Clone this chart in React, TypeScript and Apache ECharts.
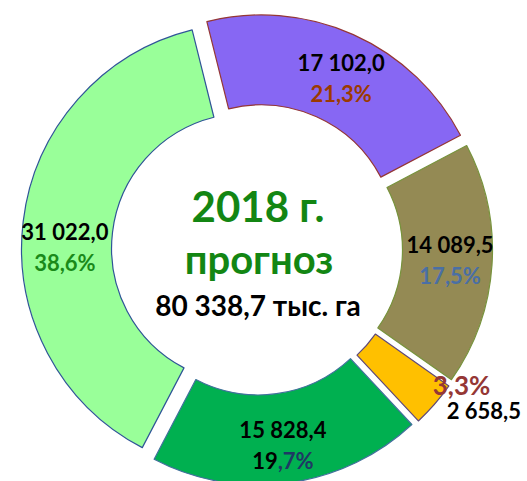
import React, { useEffect, useRef } from "react";
import * as echarts from "echarts";

// ---- data ----
const names = ["Категория 1", "Категория 2", "Категория 3", "Категория 4", "Категория 5"];
const values = [17102.0, 14089.5, 2658.5, 15828.4, 31022.0];
const total = 80338.7;
const yearText = "2018 г.";
const subText = "прогноз";
const unitText = "тыс. га";

// ---- styles ----
const sliceColors = ["#8767F3", "#948A54", "#FFC000", "#00B050", "#99FF99"];
const borderColors = ["#953735", "#77933C", "#5F497A", "#41719C", "#2F5597"];
const pctColors = ["#9C3A00", "#4A6FA5", "#953735", "#1F3864", "#1A8A1A"];
const labelShift = [
  [5, 5],
  [0, -2],
  [74, 20],
  [0, 4],
  [0, 20],
];
const FONT = 'Lato, "Open Sans", "Noto Sans", sans-serif';

const fmt = (v: number) => {
  const [i, d] = v.toFixed(1).split(".");
  return i.replace(/\B(?=(\d{3})+(?!\d))/g, " ") + "," + d;
};
const pct = (v: number) => ((v / total) * 100).toFixed(1).replace(".", ",") + "%";

export default function App() {
  const ref = useRef<HTMLDivElement>(null);
  useEffect(() => {
    if (!ref.current) return;
    const chart = echarts.init(ref.current, null, { renderer: "svg" });
    const rich: any = {
      v: { fontSize: 22, fontWeight: "bold", color: "#000", fontFamily: FONT, lineHeight: 31 },
      vy: { fontSize: 22, fontWeight: "bold", color: "#000", fontFamily: FONT, lineHeight: 24, align: "left", padding: [0, 0, 0, 14] },
      py: { fontSize: 26, fontWeight: "bold", color: pctColors[2], fontFamily: FONT, lineHeight: 28, align: "left" },
    };
    pctColors.forEach((c, i) => {
      rich["p" + i] = { fontSize: 22, fontWeight: "bold", color: c, fontFamily: FONT, lineHeight: 31 };
    });
    const formatter = (p: any) => {
      const i = p.dataIndex;
      const v = fmt(values[i]);
      const pc = pct(values[i]);
      if (i === 2) return `{py|${pc}}\n{vy|${v}}`;
      if (i === 3) {
        const [a, b] = pc.split(",");
        return `{v|${v}}\n{v|${a}}{p3|,${b}}`;
      }
      return `{v|${v}}\n{p${i}|${pc}}`;
    };
    chart.setOption({
      animation: false,
      series: [
        {
          type: "pie",
          center: [257, 249.5],
          radius: [135, 225],
          startAngle: 104,
          clockwise: true,
          selectedMode: "multiple",
          selectedOffset: 10.5,
          avoidLabelOverlap: false,
          silent: true,
          emphasis: { disabled: true },
          labelLine: { show: false },
          label: { show: true, position: "inside", formatter, rich },
          labelLayout: (p: any) => ({ dx: labelShift[p.dataIndex][0], dy: labelShift[p.dataIndex][1] }),
          data: values.map((v, i) => {
            const st = { color: sliceColors[i], borderColor: borderColors[i], borderWidth: 1.2 };
            return { value: v, name: names[i], selected: true, itemStyle: st, select: { itemStyle: st } };
          }),
        },
      ],
      graphic: [
        {
          type: "text",
          x: 258,
          y: 206,
          style: { text: yearText, fontSize: 42, fontWeight: "bold", fill: "#138613", fontFamily: FONT, align: "center", verticalAlign: "middle" },
        },
        {
          type: "text",
          x: 259,
          y: 259,
          style: { text: subText, fontSize: 40, fontWeight: "bold", fill: "#138613", fontFamily: FONT, align: "center", verticalAlign: "middle" },
        },
        {
          type: "text",
          x: 258,
          y: 305,
          style: { text: fmt(total) + " " + unitText, fontSize: 28, fontWeight: "bold", fill: "#000", fontFamily: FONT, align: "center", verticalAlign: "middle" },
        },
      ],
    });
    return () => chart.dispose();
  }, []);
  return <div ref={ref} style={{ position: "fixed", left: 0, top: 0, width: 527, height: 481, background: "#fff" }} />;
}
